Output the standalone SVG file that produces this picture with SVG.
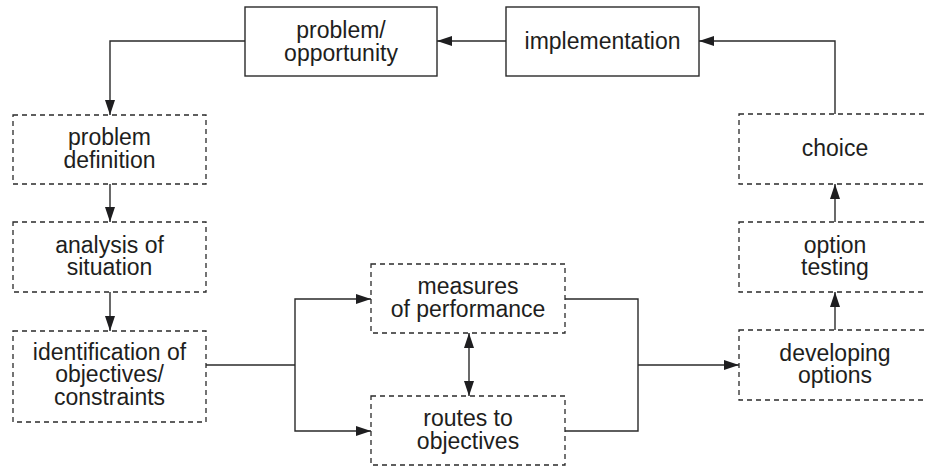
<svg xmlns="http://www.w3.org/2000/svg" width="927" height="467" viewBox="0 0 927 467">
<defs>
<marker id="ah" viewBox="0 0 15 10" refX="15" refY="5" markerWidth="15" markerHeight="10" markerUnits="userSpaceOnUse" orient="auto-start-reverse">
<path d="M0,0 L15,5 L0,10 Z" fill="#1e1e20"/>
</marker>
<style>
.solid{fill:#fff;stroke:#2a2a2a;stroke-width:1.4}
.dash{fill:#fff;stroke:#2a2a2a;stroke-width:1.3;stroke-dasharray:5 4}
.t{font-family:"Liberation Sans",Arial,Helvetica,sans-serif;font-size:23px;fill:#1e1e20;text-anchor:middle}
.c{fill:none;stroke:#2a2a2a;stroke-width:1.4}
</style>
</defs>
<rect width="927" height="467" fill="#fff"/>
<g id="connectors">
<path class="c" d="M506,41 H437" marker-end="url(#ah)"/>
<path class="c" d="M835,114 V41 H699" marker-end="url(#ah)"/>
<path class="c" d="M245,41 H110 V115" marker-end="url(#ah)"/>
<path class="c" d="M110,184 V222" marker-end="url(#ah)"/>
<path class="c" d="M110,292 V331" marker-end="url(#ah)"/>
<path class="c" d="M206,365 H295"/>
<path class="c" d="M295,365 V299 H371" marker-end="url(#ah)"/>
<path class="c" d="M295,365 V431 H371" marker-end="url(#ah)"/>
<path class="c" d="M469,333 V396" marker-start="url(#ah)" marker-end="url(#ah)"/>
<path class="c" d="M565,299 H638 V431 H565"/>
<path class="c" d="M638,365 H739" marker-end="url(#ah)"/>
<path class="c" d="M835,330 V292" marker-end="url(#ah)"/>
<path class="c" d="M835,222 V184" marker-end="url(#ah)"/>
</g>
<g id="problem-opportunity">
<rect class="solid" x="245" y="7" width="192" height="69"/>
<text class="t" x="341" y="38">problem/</text>
<text class="t" x="341" y="60.5">opportunity</text>
</g>
<g id="implementation">
<rect class="solid" x="506" y="7" width="193" height="69"/>
<text class="t" x="602.5" y="49">implementation</text>
</g>
<g id="problem-definition">
<rect class="dash" x="13" y="115" width="193" height="69"/>
<text class="t" x="109.5" y="145">problem</text>
<text class="t" x="109.5" y="167.5">definition</text>
</g>
<g id="analysis-of-situation">
<rect class="dash" x="13" y="222" width="193" height="70"/>
<text class="t" x="109.5" y="252.5">analysis of</text>
<text class="t" x="109.5" y="275">situation</text>
</g>
<g id="identification">
<rect class="dash" x="13" y="331" width="193" height="91"/>
<text class="t" x="109.5" y="359.5">identification of</text>
<text class="t" x="109.5" y="382">objectives/</text>
<text class="t" x="109.5" y="404.5">constraints</text>
</g>
<g id="measures-of-performance">
<rect class="dash" x="371" y="264" width="194" height="69"/>
<text class="t" x="468" y="294">measures</text>
<text class="t" x="468" y="316.5">of performance</text>
</g>
<g id="routes-to-objectives">
<rect class="dash" x="371" y="396" width="194" height="69"/>
<text class="t" x="468" y="426">routes to</text>
<text class="t" x="468" y="448.5">objectives</text>
</g>
<g id="developing-options">
<rect class="dash" x="739" y="330" width="192" height="70"/>
<text class="t" x="835" y="360.5">developing</text>
<text class="t" x="835" y="383">options</text>
</g>
<g id="option-testing">
<rect class="dash" x="739" y="222" width="192" height="70"/>
<text class="t" x="835" y="252.5">option</text>
<text class="t" x="835" y="275">testing</text>
</g>
<g id="choice">
<rect class="dash" x="739" y="114" width="192" height="70"/>
<text class="t" x="835" y="156">choice</text>
</g>
</svg>
